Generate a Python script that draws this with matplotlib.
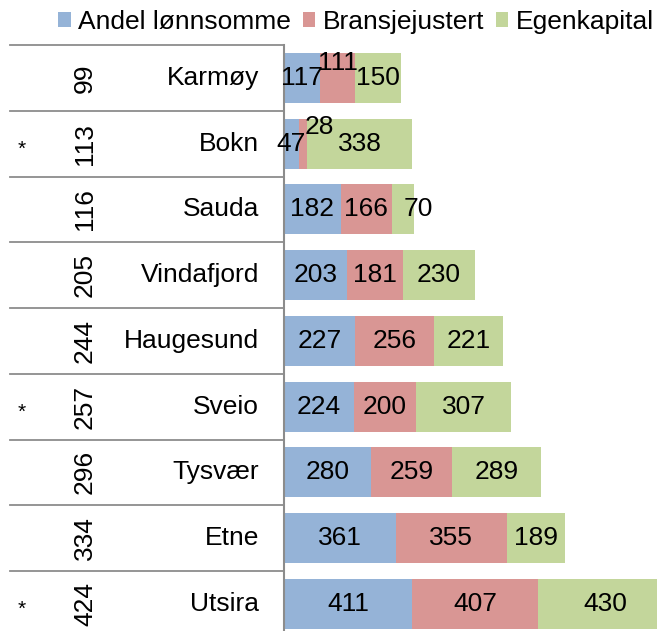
import matplotlib
matplotlib.use("Agg")
import matplotlib.pyplot as plt
from matplotlib.patches import Patch

plt.rcParams['font.family'] = ['Liberation Sans', 'DejaVu Sans']

# Data
municipalities = ["Karmøy", "Bokn", "Sauda", "Vindafjord", "Haugesund",
                  "Sveio", "Tysvær", "Etne", "Utsira"]
ranks = [99, 113, 116, 205, 244, 257, 296, 334, 424]
flags = ["", "*", "", "", "", "*", "", "", "*"]
andel_lonnsomme = [117, 47, 182, 203, 227, 224, 280, 361, 411]
bransjejustert = [111, 28, 166, 181, 256, 200, 259, 355, 407]
egenkapital = [150, 338, 70, 230, 221, 307, 289, 189, 430]
series_names = ["Andel lønnsomme", "Bransjejustert", "Egenkapital"]

# Styling
colors = ["#95B3D7", "#D99694", "#C3D69B"]
grid_color = "#8c8c8c"
fs = 19
# small label shifts (pixels) where segments are too narrow for their labels
label_nudges = {(0, 1): (0, 15), (1, 1): (16, 17), (2, 2): (15, 0)}

W, H = 657, 631
fig = plt.figure(figsize=(W / 100, H / 100), dpi=100)

ax_left_px, ax_top_px, row_h = 284, 45, 65.75
n = len(municipalities)
ax_w_px = W - ax_left_px
ax = fig.add_axes([ax_left_px / W, 1 - (ax_top_px + n * row_h) / H,
                   ax_w_px / W, n * row_h / H])

series = [andel_lonnsomme, bransjejustert, egenkapital]
ypos = list(range(n))
lefts = [0] * n
for s, (vals, col) in enumerate(zip(series, colors)):
    ax.barh(ypos, vals, left=lefts, height=0.76, color=col, linewidth=0)
    for i, v in enumerate(vals):
        dx, dy = label_nudges.get((i, s), (0, 0))
        ax.annotate(str(v), xy=(lefts[i] + v / 2, i), xytext=(dx, dy),
                    textcoords="offset pixels", ha="center", va="center",
                    fontsize=fs, color="black", annotation_clip=False)
    lefts = [l + v for l, v in zip(lefts, vals)]

ax.set_xlim(0, 1200)
ax.set_ylim(n - 0.5, -0.5)
ax.set_xticks([])
ax.set_yticks([])
for side in ("top", "right", "bottom"):
    ax.spines[side].set_visible(False)
ax.spines["left"].set_color(grid_color)
ax.spines["left"].set_linewidth(1.5)

# Table on the left of the axis
tr = ax.get_yaxis_transform()
def px_to_ax(x):
    return (x - ax_left_px) / ax_w_px

for k in range(n + 1):
    ax.plot([px_to_ax(10), 0], [k - 0.5, k - 0.5], transform=tr,
            clip_on=False, color=grid_color, lw=1.3)

for i in range(n):
    if flags[i]:
        ax.text(px_to_ax(22), i + 0.08, flags[i], transform=tr, ha="center",
                va="center", fontsize=15)
    ax.text(px_to_ax(85), i, str(ranks[i]), transform=tr, ha="center",
            va="center", rotation=90, fontsize=fs)
    ax.text(px_to_ax(259), i, municipalities[i], transform=tr, ha="right",
            va="center", fontsize=fs)

handles = [Patch(facecolor=c, edgecolor="none") for c in colors]
fig.legend(handles, series_names, ncol=3, loc="center",
           bbox_to_anchor=(356 / W, 1 - 22 / H), frameon=False, fontsize=fs,
           handlelength=0.47, handleheight=0.47, handletextpad=0.28,
           columnspacing=0.45, borderaxespad=0, borderpad=0)

fig.savefig("out.png", dpi=100)
